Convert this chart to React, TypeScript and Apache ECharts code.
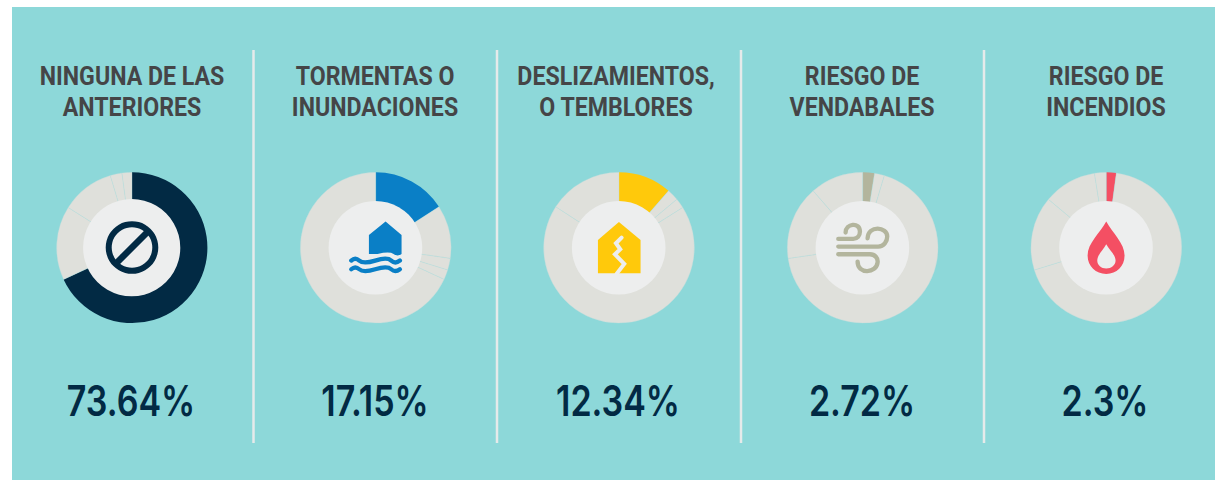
import React, { useEffect, useRef } from "react";
import * as echarts from "echarts";

const categories = ["Ninguna de las anteriores", "Tormentas o inundaciones", "Deslizamientos, o temblores", "Riesgo de vendabales", "Riesgo de incendios"];
const values = [73.64, 17.15, 12.34, 2.72, 2.3];
const valueLabels = ["73.64%", "17.15%", "12.34%", "2.72%", "2.3%"];
const titleLines = [
  ["NINGUNA DE LAS", "ANTERIORES"],
  ["TORMENTAS O", "INUNDACIONES"],
  ["DESLIZAMIENTOS,", "O TEMBLORES"],
  ["RIESGO DE", "VENDABALES"],
  ["RIESGO DE", "INCENDIOS"],
];
const colors = ["#022a44", "#0a7fc6", "#ffc90b", "#b3b59d", "#f44f63"];
const GREY = "#dfe0db";
const DISC = "#edeeee";
const BG = "#8dd8d9";

const pieX = [132, 375.7, 619, 862.7, 1106.3];
const discR = [48.6, 46.8, 46.8, 46.8, 46.8];
const titleX = [132, 375, 616, 862, 1106];
const valueX = [131, 375, 618, 862, 1105];
const dividerX = [253.5, 497, 741, 984];
const CY = 247.7;

const P = {
  house: "M287 185 L335 225 L335 282 Q323 291 311 282 T263 282 L237 282 L237 225 Z",
  wave1: "M184 302 Q196 291 208 302 T256 302 T304 302 T330 302",
  wave2: "M184 328 Q196 317 208 328 T256 328 T304 328 T330 328",
  quake: "M252 186 L317 240 L317 340 L189 340 L189 240 Z",
  crack: "M260 233 L243 250 L256 268 L240 283 L268 312 L245 342",
  wind1: "M197 218 C197 190 240 185 240 215 C240 228 232 237 220 237 L175 237",
  wind2: "M175 260 L295 260 C312 260 322 245 322 230 C322 200 265 195 263 235",
  wind3: "M175 283 L270 283 C285 283 295 295 293 308 C290 340 233 345 233 305",
  drop: "M259 185 C240 220 203 250 203 287 C203 320 228 342 259 342 C290 342 314 320 314 287 C314 250 278 220 259 185 Z",
  hole: "M259 253 C250 270 232 285 232 302 C232 316 244 326 259 326 C274 326 287 316 287 302 C287 285 268 270 259 253 Z",
};
Object.entries(P).forEach(([k, d]) => {
  echarts.graphic.registerShape("ic_" + k, echarts.graphic.extendPath(d, {}));
});

const icon = (name: string, ox: number, oy: number, style: any) => ({
  type: "ic_" + name,
  x: ox,
  y: oy,
  scaleX: 1 / 3,
  scaleY: 1 / 3,
  z: 12,
  silent: true,
  style,
});

const strokeStyle = (c: string, w: number) => ({ fill: "none", stroke: c, lineWidth: w, lineCap: "round", lineJoin: "round" });

export default function App() {
  const ref = useRef<HTMLDivElement>(null);
  useEffect(() => {
    document.body.style.margin = "0";
    const chart = echarts.init(ref.current!, null, { renderer: "svg" });
    const series = values.map((_, i) => ({
      type: "pie",
      center: [pieX[i], CY],
      radius: [44, 75.4],
      startAngle: 90,
      clockwise: true,
      animation: false,
      silent: true,
      label: { show: false },
      labelLine: { show: false },
      data: values.map((__, j) => {
        const k = (i + j) % values.length;
        return {
          name: categories[k],
          value: values[k],
          itemStyle: { color: j === 0 ? colors[i] : GREY, borderColor: "#b4dcdb", borderWidth: j === 0 ? 0 : 0.35 },
        };
      }),
    }));
    const texts: any[] = [];
    titleLines.forEach((lines, i) => {
      lines.forEach((t, l) => {
        texts.push({
          type: "text",
          x: titleX[i],
          y: 76 + l * 31,
          scaleX: 0.89,
          z: 12,
          style: { text: t, fill: "#454547", font: "700 26px Roboto", textAlign: "center", textVerticalAlign: "middle" },
        });
      });
      texts.push({
        type: "text",
        x: valueX[i],
        y: 401,
        scaleX: 0.81,
        z: 12,
        style: { text: valueLabels[i], fill: "#022a44", font: "600 42px Inter", textAlign: "center", textVerticalAlign: "middle" },
      });
    });
    const discs = pieX.map((x, i) => ({ type: "circle", z: 11, silent: true, shape: { cx: x - 0.3, cy: CY, r: discR[i] }, style: { fill: DISC } }));
    const dividers = dividerX.map((x) => ({ type: "rect", z: 1, silent: true, shape: { x: x - 1.25, y: 50, width: 2.5, height: 393 }, style: { fill: "#e6eaea" } }));
    const icons = [
      { type: "ring", z: 12, silent: true, shape: { cx: 132, cy: 247.5, r: 26.3, r0: 20.3 }, style: { fill: colors[0] } },
      { type: "line", z: 12, silent: true, shape: { x1: 116, y1: 263.5, x2: 148, y2: 231.5 }, style: { stroke: colors[0], lineWidth: 6.5 } },
      icon("house", 290, 160, { fill: colors[1] }),
      icon("wave1", 290, 160, strokeStyle(colors[1], 13)),
      icon("wave2", 290, 160, strokeStyle(colors[1], 13)),
      icon("quake", 535, 160, { fill: colors[2] }),
      icon("crack", 535, 160, { fill: "none", stroke: DISC, lineWidth: 12, lineJoin: "miter", lineCap: "round" }),
      icon("wind1", 780, 160, strokeStyle(colors[3], 13)),
      icon("wind2", 780, 160, strokeStyle(colors[3], 13)),
      icon("wind3", 780, 160, strokeStyle(colors[3], 13)),
      icon("drop", 1020, 160, { fill: colors[4] }),
      icon("hole", 1020, 160, { fill: DISC }),
    ];
    chart.setOption({
      animation: false,
      backgroundColor: "#ffffff",
      tooltip: { show: false },
      graphic: { elements: [
        { type: "rect", z: -1, silent: true, shape: { x: 12, y: 7, width: 1203, height: 473 }, style: { fill: BG } },
        ...dividers, ...discs, ...icons, ...texts,
      ] },
      series,
    });
    return () => chart.dispose();
  }, []);
  return <div ref={ref} style={{ width: 1215, height: 480 }} />;
}
